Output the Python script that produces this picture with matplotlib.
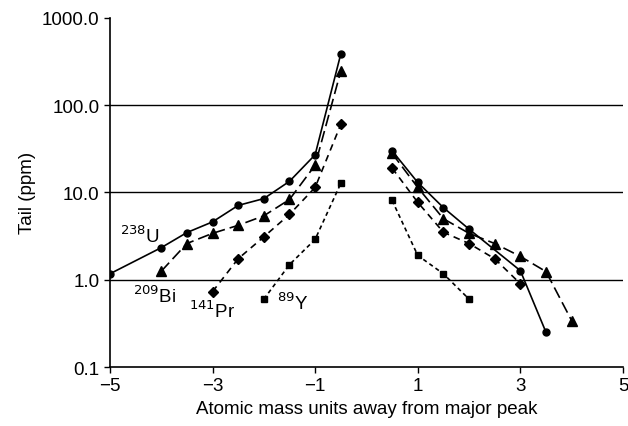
import matplotlib
matplotlib.use("Agg")
import matplotlib.pyplot as plt

plt.rcParams["font.family"] = ["Liberation Sans", "DejaVu Sans"]

# left wing (below major peak) and right wing (above major peak)
u_x_left = [-5, -4, -3.5, -3, -2.5, -2, -1.5, -1, -0.5]
u_y_left = [1.17, 2.33, 3.47, 4.6, 7.1, 8.5, 13.4, 27, 385]
u_x_right = [0.5, 1, 1.5, 2, 3, 3.5]
u_y_right = [30, 13, 6.7, 3.8, 1.27, 0.25]

bi_x_left = [-4, -3.5, -3, -2.5, -2, -1.5, -1, -0.5]
bi_y_left = [1.25, 2.6, 3.4, 4.2, 5.4, 8.3, 20.5, 245]
bi_x_right = [0.5, 1, 1.5, 2, 2.5, 3, 3.5, 4]
bi_y_right = [28, 11.4, 5.0, 3.4, 2.6, 1.85, 1.24, 0.34]

pr_x_left = [-3, -2.5, -2, -1.5, -1, -0.5]
pr_y_left = [0.73, 1.74, 3.1, 5.6, 11.4, 60]
pr_x_right = [0.5, 1, 1.5, 2, 2.5, 3]
pr_y_right = [19, 7.7, 3.5, 2.6, 1.74, 0.9]

y_x_left = [-2, -1.5, -1, -0.5]
y_y_left = [0.6, 1.49, 2.9, 12.7]
y_x_right = [0.5, 1, 1.5, 2]
y_y_right = [8.1, 1.9, 1.17, 0.6]

fig = plt.figure(figsize=(6.28, 4.27), dpi=100)
ax = fig.add_axes([0.175, 0.138, 0.817, 0.818])

styles = [
    (u_x_left, u_y_left, u_x_right, u_y_right, "o", "-", 5),
    (bi_x_left, bi_y_left, bi_x_right, bi_y_right, "^", (0, (7, 3)), 6.5),
    (pr_x_left, pr_y_left, pr_x_right, pr_y_right, "D", (0, (4, 3)), 5),
    (y_x_left, y_y_left, y_x_right, y_y_right, "s", (0, (2.5, 2)), 5),
]
for xl, yl, xr, yr, m, ls, ms in styles:
    for xs, ys in [(xl, yl), (xr, yr)]:
        ax.plot(xs, ys, color="black", linestyle=ls, lw=1.2, marker=m,
                markersize=ms, markerfacecolor="black", markeredgecolor="black")

ax.set_yscale("log")
ax.set_ylim(0.1, 1000)
ax.set_xlim(-5, 5)
ax.set_xticks([-5, -3, -1, 1, 3, 5])
ax.set_xticklabels(["\u22125", "\u22123", "\u22121", "1", "3", "5"])
ax.set_yticks([0.1, 1, 10, 100, 1000])
ax.set_yticklabels(["0.1", "1.0", "10.0", "100.0", "1000.0"])
ax.minorticks_off()
for v in [1, 10, 100]:
    ax.axhline(v, color="black", lw=1.0, zorder=0)
for s in ["top", "right"]:
    ax.spines[s].set_visible(False)
ax.spines["left"].set_linewidth(1.2)
ax.spines["bottom"].set_linewidth(1.2)
ax.tick_params(labelsize=13.5, length=4, width=1)
ax.set_xlabel("Atomic mass units away from major peak", fontsize=13.5)
ax.set_ylabel("Tail (ppm)", fontsize=13.5)

ax.text(-4.8, 3.2, "$^{238}$U", fontsize=13.5, ha="left", va="center")
ax.text(-4.55, 0.66, "$^{209}$Bi", fontsize=13.5, ha="left", va="center")
ax.text(-3.45, 0.45, "$^{141}$Pr", fontsize=13.5, ha="left", va="center")
ax.text(-1.74, 0.55, "$^{89}$Y", fontsize=13.5, ha="left", va="center")

fig.savefig("out.png", dpi=100)
